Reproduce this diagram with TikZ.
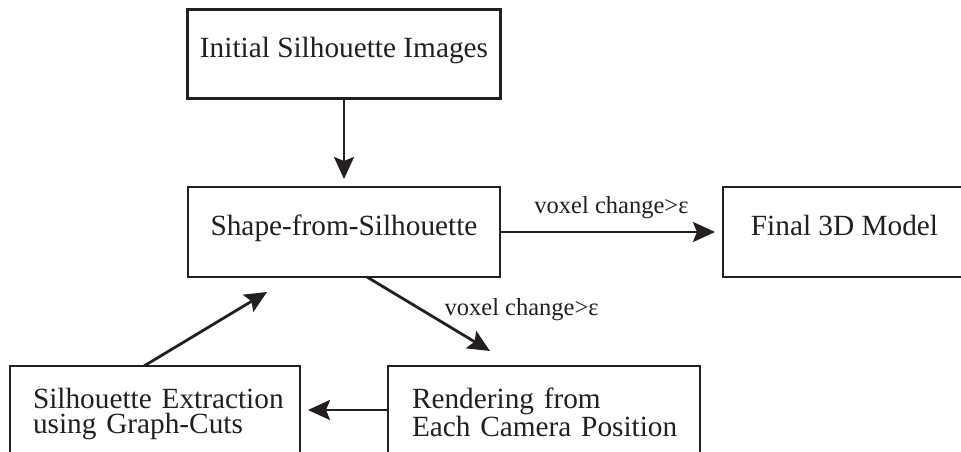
\documentclass[tikz,border=0pt]{standalone}
\usepackage{fontspec}
\setmainfont{Liberation Serif}
\usetikzlibrary{arrows.meta}
\definecolor{ink}{HTML}{231F20}
\begin{document}
\begin{tikzpicture}[x=1pt,y=-1pt,
  box/.style={draw=ink, line width=2.9pt, rectangle, inner sep=0pt, outer sep=0pt,
    font=\fontsize{29.3}{25}\selectfont, text=ink},
  onel/.style={box, text height=0.655em, text depth=0pt},
  twol/.style={box, anchor=north west, align=left, inner xsep=0pt, inner ysep=22pt},
  arr/.style={draw=ink, line width=2.8pt, -{Stealth[length=22pt,width=20pt,inset=4pt]}},
  lab/.style={font=\fontsize{24.5}{26}\selectfont, inner sep=0pt, text=ink}]
\useasboundingbox (0,0) rectangle (961,452);
\clip (0,0) rectangle (961,452);
\node[onel, minimum width=313pt, minimum height=89pt] (b1) at (344,54) {Initial Silhouette Images};
\node[onel, minimum width=312pt, minimum height=90pt] (b2) at (344,232) {Shape-from-Silhouette};
\node[onel, minimum width=243pt, minimum height=90pt] (b3) at (844.5,232) {Final 3D Model};
\node[twol, text width=290pt] (b4) at (10,366) {\hspace*{23pt}Silhouette Extraction\\\hspace*{23pt}using Graph-Cuts};
\node[twol, text width=312pt] (b5) at (388,366) {\hspace*{24pt}Rendering from\\\hspace*{24pt}Each Camera Position};
\draw[arr, shorten >=8pt] (b1) -- (b2);
\draw[arr, shorten >=8pt] (b2) -- (b3) node[lab, midway, anchor=base, yshift=19pt] {voxel change>ε};
\draw[arr] ([xshift=23pt]b2.south) -- ([xshift=-54pt,yshift=15pt]b5.north)
  node[lab, pos=0.514, anchor=base west, xshift=13pt] {voxel change>ε};
\draw[arr] ([yshift=-44pt]b5.north west) -- ([yshift=-44pt,xshift=8pt]b4.north east);
\draw[arr] ([xshift=-11pt]b4.north) -- ([xshift=-77pt,yshift=-15pt]b2.south);
\end{tikzpicture}
\end{document}
